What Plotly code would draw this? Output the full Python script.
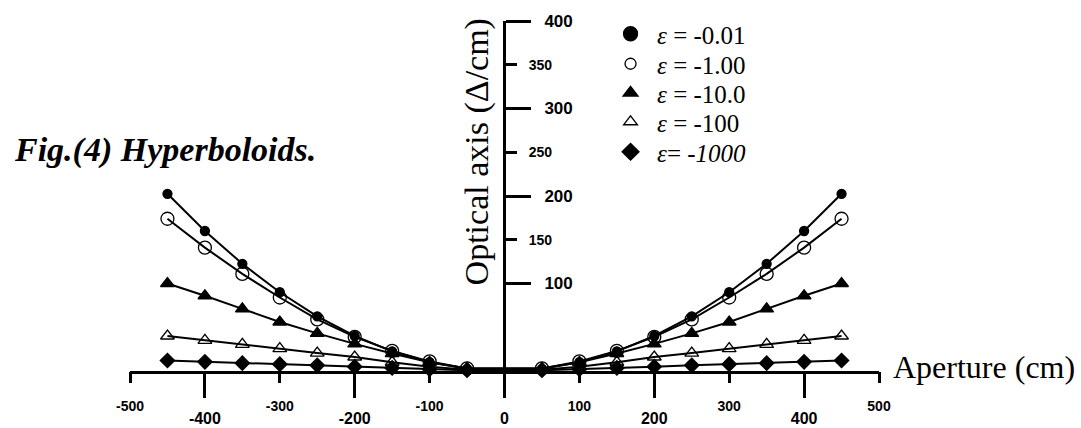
import plotly.graph_objects as go

# ---- data ----
aperture = [-450, -400, -350, -300, -250, -200, -150, -100, -50,
            50, 100, 150, 200, 250, 300, 350, 400, 450]

half_e001 = [202.5, 160, 122.5, 90, 62.5, 40, 22.5, 10, 2.5]
half_e1 = [174, 141, 111, 84, 59, 39, 23, 11, 3]
half_e10 = [100, 86, 71, 56, 43, 31, 20, 10, 3]
half_e100 = [40, 35, 30.5, 25.5, 20.5, 16, 10, 5, 1.5]
half_e1000 = [12, 10.5, 9, 7.8, 6.5, 5, 3.5, 2, 0.8]

series_names = ["<i>ε</i> = -0.01", "<i>ε</i> = -1.00", "<i>ε</i> = -10.0",
                "<i>ε</i> = -100", "<i>ε</i>= <i>-1000</i>"]
series_halves = [half_e001, half_e1, half_e10, half_e100, half_e1000]

x_major_ticks = [-400, -200, 0, 200, 400]
x_minor_ticks = [-500, -300, -100, 100, 300, 500]
y_major_ticks = [100, 200, 300, 400]
y_minor_ticks = [150, 250, 350]

# ---- styles ----
symbols = ["circle", "circle-open", "triangle-up", "triangle-up-open", "diamond"]
plot_sizes = [9, 13, 12, 12, 11]
legend_sizes = [14, 11, 13, 12, 13]
legend_row_px = [34, 64, 93, 122, 152]   # vertical centres of legend rows (px from top)

W, H = 1081, 428
ML, MR, MT, MB = 130, 202, 21, 57
plot_h = H - MT - MB

fig = go.Figure()
for name, half, sym, size in zip(series_names, series_halves, symbols, plot_sizes):
    y = list(half) + list(reversed(half))
    fig.add_trace(go.Scatter(
        x=aperture, y=y, mode="lines+markers", showlegend=False,
        line=dict(color="black", width=2),
        marker=dict(symbol=sym, size=size, color="black",
                    line=dict(color="black", width=1.3)),
        cliponaxis=False, xaxis="x", yaxis="y"))

legend_font = dict(family="Liberation Serif, Times New Roman", size=25, color="black")
legend_layouts = {}
for i, (name, sym, size, row) in enumerate(zip(series_names, symbols, legend_sizes, legend_row_px)):
    lname = "legend" if i == 0 else f"legend{i + 1}"
    fig.add_trace(go.Scatter(
        x=[None], y=[None], mode="markers", name=name, legend=lname,
        marker=dict(symbol=sym, size=size, color="black",
                    line=dict(color="black", width=1.3))))
    legend_layouts[lname] = dict(
        x=0.6329, y=(H - MB - row) / plot_h, xanchor="left", yanchor="middle",
        bgcolor="rgba(0,0,0,0)", borderwidth=0, itemwidth=43, font=legend_font)

tick_major = dict(family="Liberation Sans, Arial", size=16, color="black", weight="bold")
tick_minor = dict(family="Liberation Sans, Arial", size=14, color="black", weight="bold")
ytick_major = dict(family="Liberation Sans, Arial", size=17, color="black", weight="bold")

fig.update_layout(
    width=W, height=H,
    margin=dict(l=ML, r=MR, t=MT, b=MB, autoexpand=False),
    paper_bgcolor="white", plot_bgcolor="white",
    showlegend=True,
    xaxis=dict(range=[-500, 500], tickmode="array", tickvals=x_major_ticks,
               ticktext=[str(v) for v in x_major_ticks],
               ticks="outside", ticklen=24, tickwidth=3, tickcolor="black",
               showline=True, linewidth=3, linecolor="black",
               showgrid=False, zeroline=False, tickfont=tick_major,
               ticklabelstandoff=7, anchor="y", automargin=False),
    xaxis2=dict(range=[-500, 500], overlaying="x", matches="x", side="bottom",
                tickmode="array", tickvals=x_minor_ticks,
                ticktext=[str(v) for v in x_minor_ticks],
                ticks="outside", ticklen=11, tickwidth=3, tickcolor="black",
                showline=False, showgrid=False, zeroline=False, tickfont=tick_minor,
                ticklabelstandoff=11, anchor="y", automargin=False),
    yaxis=dict(range=[0, 400], tickmode="array", tickvals=y_major_ticks,
               ticktext=[str(v) for v in y_major_ticks],
               ticks="outside", ticklen=25, tickwidth=3, tickcolor="black",
               showline=True, linewidth=3, linecolor="black",
               showgrid=False, zeroline=False, tickfont=ytick_major,
               side="right", anchor="free", position=0.4993, ticklabelstandoff=10,
               automargin=False),
    yaxis2=dict(range=[0, 400], overlaying="y", matches="y", tickmode="array",
                tickvals=y_minor_ticks, ticktext=[str(v) for v in y_minor_ticks],
                ticks="outside", ticklen=12, tickwidth=3, tickcolor="black",
                showline=False, showgrid=False, zeroline=False, tickfont=tick_minor,
                side="right", anchor="free", position=0.4993, ticklabelstandoff=9,
                automargin=False),
    **legend_layouts,
)

# dummy trace to activate the overlay axes
fig.add_trace(go.Scatter(x=[None], y=[None], xaxis="x2", yaxis="y2",
                         showlegend=False, hoverinfo="skip"))

fig.add_annotation(text="<b><i>Fig.(4) Hyperboloids.</i></b>", xref="paper", yref="paper",
                   x=-0.158, y=0.631, xanchor="left", yanchor="middle", showarrow=False,
                   font=dict(family="Liberation Serif, Times New Roman", size=34, color="black"))
fig.add_annotation(text="Optical axis (Δ/cm)", xref="paper", yref="paper",
                   x=0.4633, y=0.6246, xanchor="center", yanchor="middle", showarrow=False,
                   textangle=-90,
                   font=dict(family="Liberation Serif, Times New Roman", size=34, color="black"))
fig.add_annotation(text="Aperture (cm)", xref="paper", yref="paper",
                   x=1.0155, y=0.011, xanchor="left", yanchor="middle", showarrow=False,
                   font=dict(family="Liberation Serif, Times New Roman", size=32, color="black"))

fig.write_html("out.html", config={"displayModeBar": False},
               post_script="document.body.style.margin='0';")
